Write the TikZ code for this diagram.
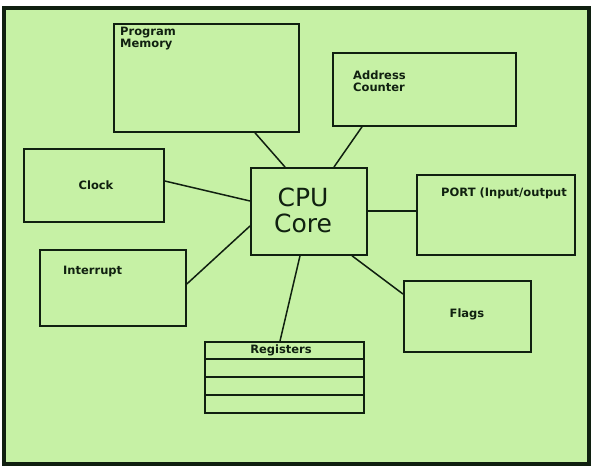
\documentclass[tikz,border=0pt]{standalone}
\usepackage{fontspec}
\setmainfont{DejaVu Sans}
\usetikzlibrary{calc}
\definecolor{bg}{HTML}{C6F1A5}
\definecolor{ink}{HTML}{102010}
\begin{document}
\begin{tikzpicture}[x=1pt,y=-1pt,
  box/.style={draw=ink,line width=1.8pt,minimum width=#1,inner sep=0pt,anchor=north west},
  wire/.style={draw=ink,line width=1.5pt},
  lbl/.style={text=ink,font=\bfseries\fontsize{11.5}{12}\selectfont,inner sep=0pt,align=left},
  big/.style={text=ink,font=\fontsize{25}{26}\selectfont,inner sep=0pt,align=center}]
\useasboundingbox (0,0) rectangle (597,472);
\fill[white] (0,0) rectangle (597,472);
\draw[ink,line width=3.5pt,fill=bg] (4,8) rectangle (589,464);
% boxes
\node[box=185pt,minimum height=108pt] (pm) at (113,23) {};
\node[box=183pt,minimum height=73pt] (ac) at (332,52) {};
\node[box=140pt,minimum height=73pt] (clk) at (23,148) {};
\node[box=116pt,minimum height=87pt] (cpu) at (250,167) {};
\node[box=158pt,minimum height=80pt] (port) at (416,174) {};
\node[box=146pt,minimum height=76pt] (intr) at (39,249) {};
\node[box=127pt,minimum height=71pt] (flags) at (403,280) {};
\node[box=159pt,minimum height=71pt] (reg) at (204,341) {};
\draw[ink,line width=1.5pt] ($(reg.north west)+(0,18)$) -- ($(reg.north east)+(0,18)$);
\draw[ink,line width=1.5pt] ($(reg.north west)+(0,36)$) -- ($(reg.north east)+(0,36)$);
\draw[ink,line width=1.5pt] ($(reg.north west)+(0,54)$) -- ($(reg.north east)+(0,54)$);
% labels
\node[lbl,anchor=north west] (tpm) at (120,27) {Program\\Memory};
\node[lbl,anchor=north west] (tac) at (353,71) {Address\\Counter};
\node[lbl] (tclk) at (96,185) {Clock};
\node[lbl,anchor=west] (tport) at (441,193) {PORT (Input/output};
\node[lbl,anchor=west] (tintr) at (63,271) {Interrupt};
\node[lbl] (tflags) at (467,314) {Flags};
\node[lbl] (treg) at (281,350.5) {Registers};
\node[big] (tcpu) at (303,210) {CPU\\Core};
% connectors
\draw[wire] ($(pm.south west)+(142,0)$) -- ($(cpu.north west)+(35,0)$);
\draw[wire] ($(ac.south west)+(30,0)$) -- ($(cpu.north west)+(84,0)$);
\draw[wire] ($(clk.north east)+(0,33)$) -- ($(cpu.north west)+(0,34)$);
\draw[wire] ($(port.north west)+(0,37)$) -- ($(cpu.north east)+(0,44)$);
\draw[wire] ($(intr.north east)+(0,35)$) -- ($(cpu.north west)+(0,59)$);
\draw[wire] ($(reg.north west)+(76,0)$) -- ($(cpu.south west)+(50,0)$);
\draw[wire] ($(flags.north west)+(0,14)$) -- ($(cpu.south west)+(102,0)$);
\end{tikzpicture}
\end{document}
